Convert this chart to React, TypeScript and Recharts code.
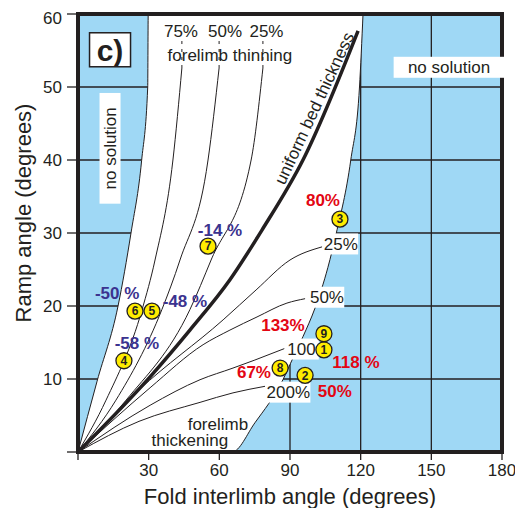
import {
  ComposedChart,
  XAxis,
  YAxis,
  CartesianGrid,
  Area,
  Line,
  Scatter,
  ReferenceArea,
  ReferenceDot,
  ReferenceLine,
} from 'recharts'

const INK = '#231f20'
const SKY = '#9fd8f5'
const RED = '#e30613'
const NAVY = '#3b338f'

const xTicks = [0, 30, 60, 90, 120, 150, 180]
const yTicks = [0, 10, 20, 30, 40, 50, 60]

// edge of the solution field (interlimb angle, ramp angle)
const leftLimit = [
  { x: 0, y: 0 },
  { x: 8.1, y: 9.7 },
  { x: 17.0, y: 20.0 },
  { x: 22.5, y: 30.0 },
  { x: 27.0, y: 39.9 },
  { x: 29.6, y: 50.0 },
  { x: 29.8, y: 60.0 },
]

const rightLimit = [
  { x: 65.4, y: 0 },
  { x: 75.1, y: 4.0 },
  { x: 87.0, y: 9.9 },
  { x: 91.3, y: 12.9 },
  { x: 95.5, y: 15.8 },
  { x: 100.6, y: 19.7 },
  { x: 106.1, y: 25.3 },
  { x: 109.6, y: 29.9 },
  { x: 115.8, y: 40.0 },
  { x: 119.5, y: 50.0 },
  { x: 121.0, y: 60.0 },
]

// forelimb thinning
const thin75 = [
  { x: 0, y: 0 },
  { x: 11.9, y: 7.1 },
  { x: 27.2, y: 19.5 },
  { x: 32.7, y: 26.3 },
  { x: 40.3, y: 40.0 },
  { x: 44.1, y: 52.6 },
]
const thin50 = [
  { x: 0, y: 0 },
  { x: 16.1, y: 7.1 },
  { x: 35.6, y: 19.5 },
  { x: 43.3, y: 26.3 },
  { x: 55.2, y: 40.0 },
  { x: 59.9, y: 52.6 },
]
const thin25 = [
  { x: 0, y: 0 },
  { x: 20.4, y: 7.1 },
  { x: 47.5, y: 19.5 },
  { x: 56.5, y: 26.3 },
  { x: 73.5, y: 40.0 },
  { x: 78.5, y: 52.6 },
]

const uniform = [
  { x: 0, y: 0 },
  { x: 30.6, y: 10.3 },
  { x: 47.5, y: 16.7 },
  { x: 64.5, y: 23.6 },
  { x: 78.1, y: 30.4 },
  { x: 95.5, y: 40.0 },
  { x: 118.9, y: 57.7 },
]

// forelimb thickening
const thick25 = [
  { x: 0, y: 0 },
  { x: 25.9, y: 8.5 },
  { x: 61.6, y: 18.1 },
  { x: 75.6, y: 22.2 },
  { x: 90.0, y: 26.3 },
  { x: 103.6, y: 28.1 },
]
const thick50 = [
  { x: 0, y: 0 },
  { x: 30.6, y: 8.8 },
  { x: 53.1, y: 14.7 },
  { x: 64.5, y: 16.7 },
  { x: 76.0, y: 18.5 },
  { x: 88.7, y: 20.4 },
  { x: 96.4, y: 21.0 },
]
const thick100 = [
  { x: 0, y: 0 },
  { x: 30.6, y: 6.4 },
  { x: 51.8, y: 9.9 },
  { x: 65.8, y: 11.5 },
  { x: 75.1, y: 12.6 },
  { x: 87.9, y: 14.2 },
]
const thick200 = [
  { x: 0, y: 0 },
  { x: 25.9, y: 4.2 },
  { x: 51.8, y: 6.8 },
  { x: 65.8, y: 8.1 },
  { x: 79.4, y: 9.0 },
]

// numbered structures
const sites = [
  { id: 1, x: 104.4, y: 14.0 },
  { id: 2, x: 96.4, y: 10.5 },
  { id: 3, x: 111.2, y: 31.9 },
  { id: 4, x: 19.5, y: 12.5 },
  { id: 5, x: 31.4, y: 19.3 },
  { id: 6, x: 24.2, y: 19.3 },
  { id: 7, x: 55.2, y: 28.2 },
  { id: 8, x: 85.8, y: 11.5 },
  { id: 9, x: 104.4, y: 16.2 },
]

// white field = below the left limit, above the right limit
const whiteField = [
  ...leftLimit.map((p) => ({ x: p.x, range: [0, p.y] })),
  ...rightLimit.map((p) => ({ x: p.x, range: [p.y, 60] })),
]

type NoteOpts = {
  color?: string
  size?: number
  bold?: boolean
  box?: boolean
  angle?: number
  border?: boolean
  boxW?: number
}

function note(text: string, o: NoteOpts = {}) {
  return ({ cx, cy }: any) => {
    const size = o.size ?? 17
    const w = o.boxW ?? text.length * size * 0.56 + 6
    const h = size + 4
    return (
      <g transform={o.angle ? `rotate(${o.angle} ${cx} ${cy})` : undefined}>
        {o.box && (
          <rect
            x={cx - w / 2}
            y={cy - h / 2}
            width={w}
            height={h}
            fill="#fff"
            stroke={o.border ? INK : 'none'}
            strokeWidth={1.5}
          />
        )}
        <text
          x={cx}
          y={cy}
          dy="0.36em"
          textAnchor="middle"
          fontSize={size}
          fontWeight={o.bold ? 700 : 400}
          fill={o.color ?? INK}
        >
          {text}
        </text>
      </g>
    )
  }
}

const SiteMark = ({ cx, cy, payload }: any) => (
  <g>
    <circle cx={cx} cy={cy} r={8} fill="#ffec00" stroke={INK} strokeWidth={1.3} />
    <text x={cx} y={cy} dy="0.36em" textAnchor="middle" fontSize={12} fontWeight={700} fill={INK}>
      {payload.id}
    </text>
  </g>
)

const curves = [thin75, thin50, thin25, thick25, thick50, thick100, thick200]

export default function App() {
  return (
    <div style={{ fontFamily: '"Liberation Sans", Arial, sans-serif' }}>
      <ComposedChart width={515} height={500} margin={{ top: 6, right: 21, bottom: 0, left: 0 }}>
        <CartesianGrid
          fill={SKY}
          fillOpacity={1}
          stroke={INK}
          strokeWidth={1.3}
          strokeOpacity={1}
        />
        <XAxis
          type="number"
          dataKey="x"
          domain={[0, 180]}
          ticks={xTicks}
          allowDataOverflow
          axisLine={false}
          tickLine={{ stroke: INK, strokeWidth: 1.3 }}
          tickSize={8}
          tickMargin={4}
          tick={{ fontSize: 17, fill: INK }}
          tickFormatter={(v) => (v === 0 ? '' : String(v))}
          height={56}
          label={{
            value: 'Fold interlimb angle (degrees)',
            position: 'insideBottom',
            offset: 4,
            style: { fontSize: 22, fill: INK },
          }}
        />
        <YAxis
          type="number"
          dataKey="y"
          domain={[0, 60]}
          ticks={yTicks}
          allowDataOverflow
          axisLine={false}
          tickLine={{ stroke: INK, strokeWidth: 1.3 }}
          tickSize={11}
          tickMargin={5}
          tick={{ fontSize: 17, fill: INK }}
          tickFormatter={(v) => (v === 0 ? '' : String(v))}
          width={70}
          label={{
            value: 'Ramp angle (degrees)',
            angle: -90,
            position: 'insideLeft',
            offset: 15,
            dy: -20,
            style: { fontSize: 22, fill: INK, textAnchor: 'middle' },
          }}
        />

        <Area
          data={whiteField}
          dataKey="range"
          type="monotone"
          fill="#fff"
          fillOpacity={1}
          stroke={INK}
          strokeWidth={1}
          isAnimationActive={false}
        />

        {curves.map((c, i) => (
          <Line
            key={i}
            data={c}
            dataKey="y"
            type="monotone"
            stroke={INK}
            strokeWidth={1}
            dot={false}
            activeDot={false}
            isAnimationActive={false}
          />
        ))}
        <Line
          data={uniform}
          dataKey="y"
          type="monotone"
          stroke={INK}
          strokeWidth={3.5}
          dot={false}
          activeDot={false}
          isAnimationActive={false}
        />

        {[44.1, 59.9, 78.5].map((x) => (
          <ReferenceLine
            key={x}
            segment={[
              { x, y: 52.6 },
              { x, y: 56.4 },
            ]}
            stroke={INK}
            strokeDasharray="3 5"
          />
        ))}

        <ReferenceArea
          x1={0}
          x2={180}
          y1={0}
          y2={60}
          fill="none"
          stroke={INK}
          strokeWidth={4}
          ifOverflow="visible"
        />

        <ReferenceDot x={13.6} y={55.1} r={1} zIndex={700} shape={note('c)', { size: 30, bold: true, box: true, border: true, boxW: 41 })} />
        <ReferenceDot x={13.6} y={41.6} r={1} zIndex={700} shape={note('no solution', { box: true, angle: -90 })} />
        <ReferenceDot x={157.5} y={52.7} r={1} zIndex={700} shape={note('no solution', { box: true })} />
        <ReferenceDot x={43.7} y={57.7} r={1} zIndex={700} shape={note('75%')} />
        <ReferenceDot x={62.4} y={57.7} r={1} zIndex={700} shape={note('50%')} />
        <ReferenceDot x={80.0} y={57.7} r={1} zIndex={700} shape={note('25%')} />
        <ReferenceDot x={64.5} y={54.4} r={1} zIndex={700} shape={note('forelimb thinning')} />
        <ReferenceDot x={100.2} y={47.1} r={1} zIndex={700} shape={note('uniform bed thickness', { angle: -65 })} />
        <ReferenceDot x={59.4} y={3.9} r={1} zIndex={700} shape={note('forelimb')} />
        <ReferenceDot x={47.5} y={1.6} r={1} zIndex={700} shape={note('thickening')} />

        <ReferenceDot x={111.6} y={28.5} r={1} zIndex={700} shape={note('25%', { box: true })} />
        <ReferenceDot x={105.7} y={21.2} r={1} zIndex={700} shape={note('50%', { box: true })} />
        <ReferenceDot x={94.9} y={14.1} r={1} zIndex={700} shape={note('100', { box: true })} />
        <ReferenceDot x={89.3} y={8.2} r={1} zIndex={700} shape={note('200%', { box: true })} />

        <ReferenceDot x={60.3} y={30.4} r={1} zIndex={700} shape={note('-14 %', { bold: true, color: NAVY })} />
        <ReferenceDot x={16.6} y={21.8} r={1} zIndex={700} shape={note('-50 %', { bold: true, color: NAVY })} />
        <ReferenceDot x={45.4} y={20.7} r={1} zIndex={700} shape={note('-48 %', { bold: true, color: NAVY })} />
        <ReferenceDot x={25.0} y={14.9} r={1} zIndex={700} shape={note('-58 %', { bold: true, color: NAVY })} />

        <ReferenceDot x={104.0} y={34.5} r={1} zIndex={700} shape={note('80%', { bold: true, color: RED })} />
        <ReferenceDot x={87.0} y={17.4} r={1} zIndex={700} shape={note('133%', { bold: true, color: RED })} />
        <ReferenceDot x={118.0} y={12.3} r={1} zIndex={700} shape={note('118 %', { bold: true, color: RED })} />
        <ReferenceDot x={74.7} y={11.0} r={1} zIndex={700} shape={note('67%', { bold: true, color: RED })} />
        <ReferenceDot x={109.0} y={8.4} r={1} zIndex={700} shape={note('50%', { bold: true, color: RED })} />

        <Scatter data={sites} dataKey="y" shape={SiteMark} zIndex={800} isAnimationActive={false} />
      </ComposedChart>
    </div>
  )
}
